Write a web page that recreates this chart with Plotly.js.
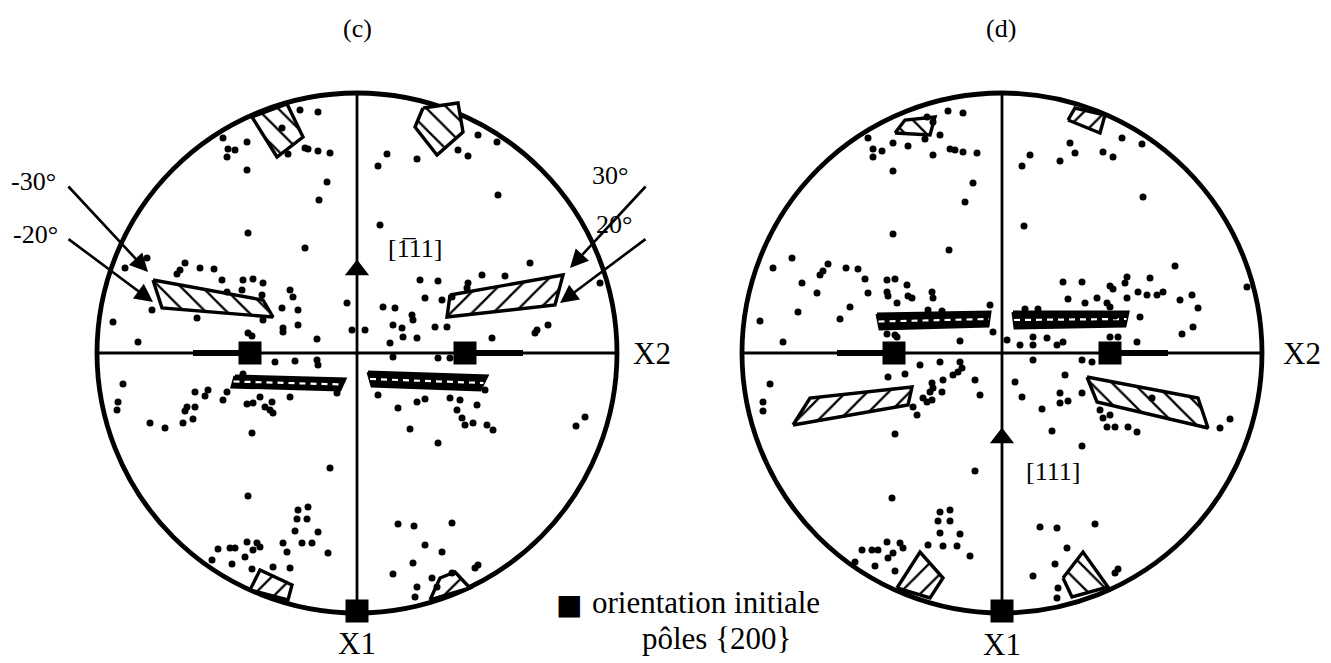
<!DOCTYPE html>
<html>
<head>
<meta charset="utf-8">
<script src="https://cdn.plot.ly/plotly-3.0.1.min.js"></script>
<style>html,body{margin:0;padding:0;background:#fff;}#chart{width:1331px;height:663px;}</style>
</head>
<body>
<div id="chart"></div>
<script>
// Pole-figure coordinates (projection units, equator radius = 260), origin at centre of each net.
const netRadius = 260;

// {200} poles measured on figure (c)
const polesC = [
 [-57,243],[-39,241],[-75,225],[-134,215],[-110,211],[-129,204],[-122,203],[-130,196],[-69,199],[-52,205],[-49,204],[-39,202],[-27,200],[-110,183],[-30,171],[-38,153],[-109,120],[-52,105],[-210,95],[-232,85],[-172,90],[-177,83],[-180,79],[-157,85],[-143,84],[-135,73],[-114,73],[-104,74],[-94,70],[-67,63],[-64,56],[-115,63],[-95,58],[-75,45],[-59,43],[-130,61],[-205,43],[-160,35],[-94,33],[-244,31],[-74,25],[-59,28],[-109,20],[-10,50],[-5,23],
 [30,199],[21,187],[60,194],[101,203],[111,197],[121,218],[140,211],[141,158],[23,128],[173,90],[125,78],[148,77],[63,73],[81,72],[111,70],[110,65],[243,70],[68,55],[85,53],[95,56],[26,46],[38,45],[55,38],[56,33],[36,28],[45,25],[78,26],[90,26],[180,23],[191,28],[8,23],
 [-219,11],[-105,17],[-74,21],[-40,14],[-82,-9],[-62,-8],[-40,-7],[-39,-12],[-114,-21],[-234,-31],[-20,-40],[-162,-39],[-149,-37],[-152,-43],[-130,-39],[-134,-47],[-239,-49],[-240,-57],[-170,-54],[-172,-58],[-162,-54],[-110,-51],[-104,-50],[-92,-54],[-85,-49],[-87,-57],[-84,-60],[-97,-44],[-67,-44],[-207,-70],[-192,-75],[-174,-70],[-164,-66],[-105,-80],[-27,-115],[-109,-143],[-59,-157],[-49,-154],[-60,-166],[-50,-166],[-62,-178],[-39,-179],[-110,-189],[-100,-190],[-97,-194],[-74,-190],[-55,-190],[-45,-190],[-70,-199],[-29,-200],[-139,-196],[-127,-195],[-122,-195],[-104,-197],[-112,-204],[-125,-211],[-105,-216],[-84,-214],[-67,-215],[-145,-207],
 [46,16],[60,15],[33,10],[135,15],[178,20],[36,-4],[81,-5],[93,-5],[21,-42],[41,-55],[60,-49],[68,-46],[93,-45],[103,-47],[128,-37],[100,-57],[105,-65],[108,-72],[116,-70],[120,-52],[130,-72],[136,-77],[53,-76],[81,-90],[228,-64],[219,-73],[41,-171],[57,-173],[95,-170],[68,-192],[85,-199],[56,-210],[36,-221],[60,-234],[58,-244],[75,-225],[80,-234],[95,-220],[118,-215],[121,-212]
];

// {200} poles measured on figure (d)
const polesD = [
 [-54,242],[-39,240],[-75,236],[-69,231],[-62,218],[-109,210],[-94,207],[-77,214],[-134,215],[-129,204],[-120,202],[-129,196],[-69,198],[-52,204],[-47,203],[-39,201],[-25,200],[-109,182],[-29,170],[-37,151],[-109,119],[-53,103],[-210,95],[-229,85],[-174,89],[-179,82],[-182,78],[-156,85],[-144,84],[-137,74],[-200,70],[-185,60],[-115,73],[-107,74],[-95,68],[-134,60],[-115,61],[-114,57],[-94,57],[-90,55],[-70,61],[-69,55],[-105,50],[-152,46],[-12,48],[-74,43],[-60,42],[-204,41],[-242,32],[-162,34],[-9,21],[-107,18],
 [28,198],[20,187],[68,210],[73,200],[58,192],[101,201],[111,196],[120,215],[140,209],[141,156],[22,127],[173,87],[125,76],[148,75],[61,71],[80,71],[108,67],[111,64],[123,70],[245,66],[66,54],[83,50],[95,55],[105,50],[108,46],[125,55],[136,61],[145,58],[155,58],[161,61],[178,53],[190,58],[196,45],[23,44],[36,44],[113,37],[138,36],[191,26],[180,19],
 [-219,11],[-115,19],[-105,16],[-42,12],[-82,-12],[-62,-9],[-42,-9],[-40,-15],[-44,-19],[-49,-22],[-114,-24],[-97,-21],[-70,-30],[-69,-35],[-72,-39],[-59,-27],[-60,-39],[-22,-42],[-27,-27],[-79,-45],[-75,-49],[-70,-47],[-89,-54],[-85,-62],[-232,-31],[-239,-49],[-239,-58],[-107,-81],[-27,-118],[-110,-145],[-62,-159],[-52,-157],[-64,-168],[-52,-168],[-62,-180],[-42,-181],[-115,-189],[-102,-190],[-99,-195],[-59,-193],[-45,-193],[-74,-192],[-140,-197],[-130,-197],[-124,-197],[-109,-200],[-114,-205],[-32,-203],[-127,-213],[-147,-209],[-107,-218],
 [31,16],[45,15],[55,8],[61,11],[5,13],[18,8],[31,8],[108,16],[116,16],[135,11],[31,-7],[80,-7],[90,-9],[63,-22],[13,-29],[20,-44],[58,-40],[58,-50],[66,-48],[80,-40],[40,-56],[98,-57],[101,-65],[108,-62],[105,-74],[113,-74],[126,-74],[135,-79],[50,-78],[80,-93],[218,-75],[228,-66],[150,-45],[38,-174],[55,-175],[93,-171],[65,-195],[53,-211],[31,-223],[56,-235],[55,-245],[116,-216],[113,-220]
];

// Initial orientation {200} poles (filled squares)
const initialC = [[-107,0],[108,0],[0,-258]];
const initialD = [[-108,0],[108,0],[0,-258]];

// Tensile axis directions (triangles) and their labels
const axisC = [[0,83]];
const axisD = [[0,-85]];
const axisLabelC = "[1\u030511]";
const axisLabelD = "[111]";

// Predicted zones (hatched regions), figure (c)
const zonesC = [
 {pts:[[-204,73],[-94,53],[-84,36],[-195,45]], hatch:'\\', strip:false},
 {pts:[[93,58],[206,78],[198,48],[90,36]], hatch:'/', strip:false},
 {pts:[[-122,-23],[-12,-26],[-17,-37],[-125,-34]], hatch:'-', strip:true},
 {pts:[[11,-19],[130,-23],[123,-37],[15,-33]], hatch:'-', strip:true},
 {pts:[[-105,236],[-70,249],[-54,216],[-80,196]], hatch:'\\', strip:false},
 {pts:[[66,245],[58,226],[80,198],[106,221],[101,250]], hatch:'\\', strip:false},
 {pts:[[-107,-237],[-97,-217],[-65,-232],[-69,-247]], hatch:'/', strip:false},
 {pts:[[73,-247],[83,-225],[98,-219],[113,-235]], hatch:'/', strip:false}
];
// Predicted zones, figure (d)
const zonesD = [
 {pts:[[-125,39],[-12,41],[-14,27],[-122,24]], hatch:'-', strip:true},
 {pts:[[11,41],[126,41],[123,27],[13,25]], hatch:'-', strip:true},
 {pts:[[-209,-72],[-192,-45],[-90,-34],[-94,-52]], hatch:'/', strip:false},
 {pts:[[85,-24],[196,-45],[206,-75],[95,-49]], hatch:'\\', strip:false},
 {pts:[[-107,220],[-97,233],[-67,236],[-72,218]], hatch:'\\', strip:false},
 {pts:[[66,233],[73,245],[103,238],[98,220]], hatch:'/', strip:false},
 {pts:[[-105,-235],[-82,-199],[-59,-225],[-72,-245]], hatch:'/', strip:false},
 {pts:[[61,-225],[81,-199],[106,-234],[70,-244]], hatch:'\\', strip:false}
];

// Rotation arrows on figure (c): label, arrow head, arrow tail, label position
const rotArrowsC = [
 {label:'-30°', head:[-209,81], tail:[-290,168], at:[-324,172]},
 {label:'-20°', head:[-204,51], tail:[-290,115], at:[-322,119]},
 {label:'30°',  head:[213,85],  tail:[290,168],  at:[253,178]},
 {label:'20°',  head:[203,50],  tail:[290,115],  at:[257,129]}
];

const panelTitles = ['(c)', '(d)'];
const legendSymbol = '\u25A0';
const legendLines = ['orientation initiale', 'p\u00F4les {200}'];

const serif = '"Liberation Serif", "Times New Roman", serif';
const traces = [];
const shapes = [];
const annotations = [];

function addPanel(xa, poles, initial, tri, zones) {
  const xref = xa;
  shapes.push({type:'circle', xref, yref:'y', x0:-netRadius, x1:netRadius, y0:-netRadius, y1:netRadius, line:{color:'black', width:4.8}, layer:'below'});
  shapes.push({type:'line', xref, yref:'y', x0:0, x1:0, y0:-netRadius, y1:netRadius, line:{color:'black', width:2.8}, layer:'below'});
  shapes.push({type:'line', xref, yref:'y', x0:-netRadius, x1:netRadius, y0:0, y1:0, line:{color:'black', width:2.8}, layer:'below'});
  shapes.push({type:'line', xref, yref:'y', x0:initial[0][0]-57, x1:initial[0][0], y0:0, y1:0, line:{color:'black', width:6}, layer:'below'});
  shapes.push({type:'line', xref, yref:'y', x0:initial[1][0], x1:initial[1][0]+58, y0:0, y1:0, line:{color:'black', width:6}, layer:'below'});
  zones.forEach(z => {
    const xs = z.pts.map(p => p[0]); xs.push(z.pts[0][0]);
    const ys = z.pts.map(p => p[1]); ys.push(z.pts[0][1]);
    if (z.strip) {
      traces.push({type:'scatter', mode:'lines', x:xs, y:ys, xaxis:xa, yaxis:'y', fill:'toself', fillcolor:'black',
        line:{color:'black', width:3}, hoverinfo:'skip'});
      const p = z.pts;
      const mx = [(p[0][0]+p[3][0])/2, (p[1][0]+p[2][0])/2];
      const my = [(p[0][1]+p[3][1])/2, (p[1][1]+p[2][1])/2];
      traces.push({type:'scatter', mode:'lines', x:mx, y:my, xaxis:xa, yaxis:'y',
        line:{color:'white', width:2.2, dash:'6px,5px'}, hoverinfo:'skip'});
    } else {
      traces.push({type:'scatter', mode:'lines', x:xs, y:ys, xaxis:xa, yaxis:'y', fill:'toself', fillcolor:'white',
        fillpattern:{shape:z.hatch, fgcolor:'black', bgcolor:'white', size:15, solidity:0.15},
        line:{color:'black', width:3.4}, hoverinfo:'skip'});
    }
  });
  traces.push({type:'scatter', mode:'markers', x:poles.map(p=>p[0]), y:poles.map(p=>p[1]), xaxis:xa, yaxis:'y',
    marker:{color:'black', size:7, line:{width:0}}, hoverinfo:'skip'});
  traces.push({type:'scatter', mode:'markers', x:initial.map(p=>p[0]), y:initial.map(p=>p[1]), xaxis:xa, yaxis:'y',
    marker:{color:'black', size:23, symbol:'square', line:{width:0}}, hoverinfo:'skip'});
  traces.push({type:'scatter', mode:'markers', x:tri.map(p=>p[0]), y:tri.map(p=>p[1]), xaxis:xa, yaxis:'y',
    marker:{color:'black', size:21, symbol:'triangle-up', line:{width:0}}, hoverinfo:'skip'});
}

addPanel('x', polesC, initialC, axisC, zonesC);
addPanel('x2', polesD, initialD, axisD, zonesD);

const big = {family:serif, size:31, color:'black'};
const mid = {family:serif, size:26, color:'black'};
annotations.push({xref:'x', yref:'y', x:axisC[0][0]+58, y:axisC[0][1]+22, text:axisLabelC, showarrow:false, font:mid});
annotations.push({xref:'x2', yref:'y', x:axisD[0][0]+51, y:axisD[0][1]-33, text:axisLabelD, showarrow:false, font:mid});
annotations.push({xref:'x', yref:'y', x:274, y:0, xanchor:'left', text:'X2', showarrow:false, font:big});
annotations.push({xref:'x2', yref:'y', x:279, y:0, xanchor:'left', text:'X2', showarrow:false, font:big});
annotations.push({xref:'x', yref:'y', x:0, y:-290, text:'X1', showarrow:false, font:big});
annotations.push({xref:'x2', yref:'y', x:0, y:-291, text:'X1', showarrow:false, font:big});
annotations.push({xref:'x', yref:'y', x:0, y:325, text:panelTitles[0], showarrow:false, font:mid});
annotations.push({xref:'x2', yref:'y', x:-1, y:325, text:panelTitles[1], showarrow:false, font:mid});
rotArrowsC.forEach(a => {
  annotations.push({xref:'x', yref:'y', axref:'x', ayref:'y', x:a.head[0], y:a.head[1], ax:a.tail[0], ay:a.tail[1],
    text:'', showarrow:true, arrowhead:2, arrowsize:1.4, arrowwidth:2.6, arrowcolor:'black', standoff:0, startstandoff:0});
  annotations.push({xref:'x', yref:'y', x:a.at[0], y:a.at[1], text:a.label, showarrow:false, font:mid});
});
annotations.push({xref:'paper', yref:'paper', x:0.4275, y:0.088, xanchor:'center', yanchor:'middle', text:legendSymbol, showarrow:false, font:{family:'"DejaVu Sans", sans-serif', size:28, color:'black'}});
annotations.push({xref:'paper', yref:'paper', x:0.4433, y:0.0905, xanchor:'left', yanchor:'middle', text:legendLines[0], showarrow:false, font:big});
annotations.push({xref:'paper', yref:'paper', x:0.538, y:0.0377, xanchor:'center', yanchor:'middle', text:legendLines[1], showarrow:false, font:big});

const layout = {
  width:1331, height:663,
  margin:{l:0, r:0, t:0, b:0, pad:0},
  paper_bgcolor:'white', plot_bgcolor:'white',
  showlegend:false,
  xaxis:{domain:[0,0.5], range:[-357,308.5], visible:false, fixedrange:true},
  xaxis2:{domain:[0.5,1], range:[-336.5,329], visible:false, fixedrange:true, anchor:'y'},
  yaxis:{domain:[0,1], range:[-310,353], visible:false, fixedrange:true},
  shapes, annotations
};

Plotly.newPlot('chart', traces, layout, {staticPlot:true, displayModeBar:false});
</script>
</body>
</html>
